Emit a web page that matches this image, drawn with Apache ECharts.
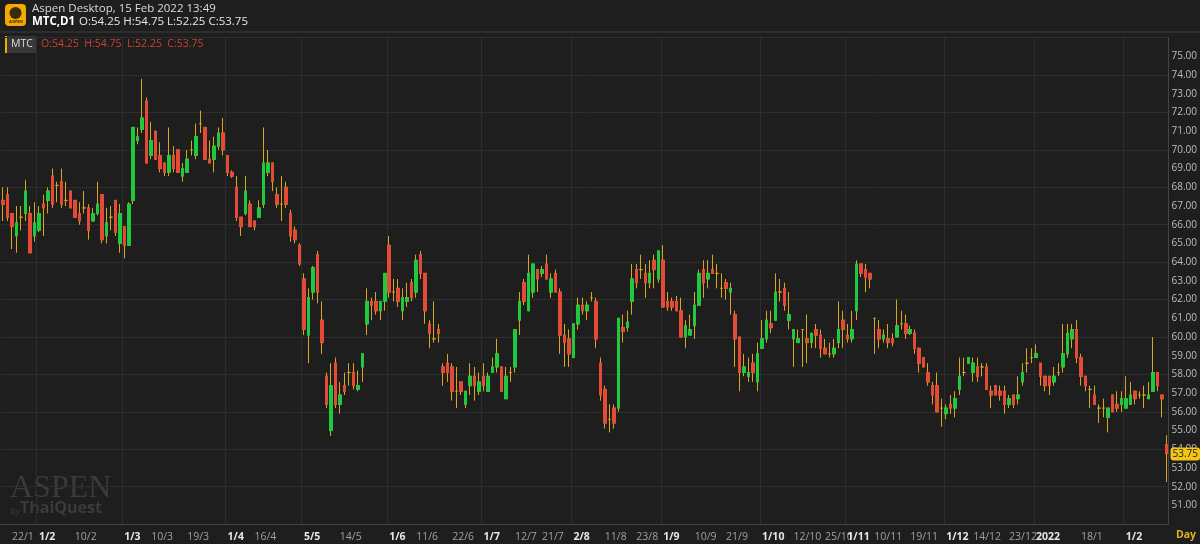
<!DOCTYPE html>
<html><head><meta charset="utf-8">
<script src="https://cdn.jsdelivr.net/npm/echarts@6/dist/echarts.min.js"></script>
<style>html,body{margin:0;padding:0;background:#1e1e1e}#c{width:1200px;height:544px}</style>
</head><body><div id="c"></div>
<script>
// [open, close, low, high] per trading day, 22 Jan 2021 .. 15 Feb 2022
const candles = [
[67.3,67.1,66.2,68.0],[67.6,66.4,66.2,68.0],[66.6,65.9,64.7,66.6],[65.4,66.1,64.5,67.0],[66.4,66.4,65.7,67.0],
[66.6,67.8,66.2,68.4],[66.6,64.5,64.5,67.0],[65.4,66.1,65.1,67.2],[65.7,66.6,65.6,67.0],[67.1,66.9,65.4,67.6],
[67.3,67.8,66.6,68.0],[68.6,67.1,66.9,69.0],[68.1,68.1,67.2,68.3],[68.3,67.1,66.9,69.0],[67.3,67.3,67.0,68.3],
[67.8,66.9,66.9,67.8],[67.3,66.4,66.4,67.3],[66.6,66.2,66.0,67.2],[66.9,66.9,66.6,67.8],[66.9,65.7,65.2,67.1],
[66.2,66.6,66.2,66.9],[66.6,67.1,66.5,68.3],[67.6,65.2,65.0,67.6],[65.4,66.1,65.0,66.9],[66.4,66.4,65.7,67.0],
[67.3,65.6,65.4,67.3],[65.0,66.6,64.5,67.1],[65.9,64.9,64.2,65.9],[64.9,67.1,64.9,67.2],[67.3,71.2,67.1,71.2],
[70.5,70.7,70.3,71.2],[71.1,71.7,70.9,73.8],[72.6,69.3,69.3,72.8],[69.7,70.5,69.5,71.5],[71.0,69.5,69.5,71.0],
[69.7,69.0,68.8,70.4],[69.3,68.8,68.6,69.3],[68.8,69.7,68.6,71.2],[69.7,69.0,68.8,70.2],[70.0,68.8,68.8,70.0],
[68.6,69.0,68.3,69.3],[68.8,69.5,68.8,70.0],[70.0,70.0,69.7,70.5],[69.7,70.7,69.5,71.4],[71.4,71.4,70.9,72.1],
[71.2,69.5,69.5,71.2],[69.5,69.3,69.3,70.5],[69.5,70.2,68.8,70.7],[70.2,70.9,70.0,71.2],[70.9,70.0,69.7,71.7],
[69.7,68.8,68.6,69.7],[68.8,68.6,68.5,68.9],[68.0,66.4,66.2,68.6],[66.4,65.9,65.4,66.4],[66.6,67.8,66.5,68.6],
[67.1,65.9,65.9,67.3],[66.2,65.9,65.7,66.2],[66.4,66.9,66.4,67.3],[67.1,69.3,66.9,71.2],[68.8,69.3,68.6,70.0],
[69.3,68.3,67.8,69.3],[67.6,67.1,66.9,68.0],[67.1,67.1,66.2,68.6],[68.0,67.1,66.9,68.3],[66.6,65.4,65.1,66.8],
[65.7,65.2,65.0,65.9],[64.9,63.9,63.8,65.0],[63.1,60.4,60.1,63.4],[60.1,62.1,58.6,62.6],[62.4,63.7,62.0,63.8],
[64.4,62.4,61.8,64.6],[60.9,59.7,59.1,61.9],[57.9,56.4,56.2,58.1],[55.0,57.4,54.7,58.6],[58.6,56.4,56.2,58.9],
[56.4,56.9,55.9,57.6],[57.4,57.1,56.9,58.1],[58.1,58.1,57.4,58.6],[58.1,57.4,57.2,58.6],[57.2,57.4,57.1,58.2],
[58.4,59.1,57.6,59.1],[60.7,61.9,60.1,62.6],[61.9,61.7,60.9,62.1],[61.9,61.4,61.2,62.4],[61.4,61.9,60.9,61.9],
[61.9,63.4,61.4,63.4],[64.9,62.4,62.1,65.4],[62.4,62.4,61.9,63.1],[62.6,61.9,61.6,63.1],[61.4,62.1,60.9,62.6],
[61.9,62.1,61.6,62.9],[62.9,62.1,61.9,63.1],[62.4,64.1,62.1,64.4],[64.4,63.4,63.1,64.6],[63.4,61.4,60.7,63.4],
[60.7,60.2,59.4,60.9],[59.9,59.9,59.7,61.9],[60.4,60.2,59.7,60.7],[58.4,58.1,57.4,58.6],[58.6,58.1,57.6,59.1],
[58.4,57.1,56.6,58.6],[57.1,57.1,56.2,58.4],[57.6,57.1,56.9,57.6],[56.4,57.1,56.2,57.1],[57.4,57.9,56.9,58.6],
[57.9,57.4,56.6,58.4],[57.1,57.6,56.9,58.1],[57.9,57.4,57.1,58.6],[57.1,57.9,57.1,58.1],[58.1,58.4,58.1,58.9],
[58.4,59.1,58.1,59.9],[58.4,57.1,57.1,58.4],[56.7,57.9,56.7,58.4],[58.1,58.1,57.6,58.4],[58.4,60.4,58.1,60.4],
[60.9,61.9,60.1,62.4],[62.9,61.9,61.7,63.1],[61.4,63.4,61.4,64.4],[62.4,63.9,62.1,63.9],[63.6,63.1,62.4,63.6],
[63.4,63.6,63.2,63.8],[63.9,63.1,63.1,64.4],[62.4,63.1,62.1,63.4],[63.4,62.4,62.4,63.6],[62.4,60.1,59.1,62.6],
[60.1,59.7,58.4,60.7],[59.9,59.1,58.4,60.4],[58.9,60.7,58.9,60.7],[60.7,61.7,60.4,62.1],[61.7,61.4,61.2,62.1],
[61.4,61.7,60.9,61.9],[62.1,62.1,61.9,62.4],[61.9,59.9,59.4,62.1],[58.6,56.9,56.6,58.9],[57.2,55.4,55.1,57.4],
[55.6,55.6,54.9,56.4],[56.2,55.4,55.1,56.4],[56.2,61.0,56.0,61.0],[60.5,60.3,59.7,61.2],[60.5,60.8,60.3,61.4],
[61.9,63.1,61.2,63.9],[63.6,62.9,62.6,63.9],[63.6,63.6,63.1,64.4],[63.4,62.9,62.1,63.9],[62.9,63.4,62.6,64.1],
[64.1,63.6,62.6,64.4],[63.1,64.6,62.9,64.6],[64.1,61.6,61.6,64.9],[61.9,61.6,61.4,62.4],[61.9,61.6,61.4,62.1],
[61.9,61.4,61.4,62.2],[61.4,60.0,60.0,62.1],[60.0,60.6,59.4,60.9],[60.1,60.4,60.1,61.2],[60.6,61.7,59.9,62.4],
[61.7,63.4,61.7,63.6],[63.6,62.9,62.1,64.1],[63.1,63.4,62.6,64.1],[63.6,63.4,63.4,64.4],[63.4,63.4,62.6,63.9],
[62.6,62.6,62.1,63.4],[62.9,62.6,62.0,63.1],[62.4,62.6,61.2,62.9],[61.2,59.9,58.4,61.4],[60.0,58.1,57.1,60.0],
[58.1,58.4,57.9,59.1],[57.9,58.1,57.6,58.9],[58.6,58.1,57.6,59.1],[57.6,59.1,57.1,59.7],[59.4,59.9,59.4,60.9],
[59.9,60.9,59.7,61.4],[60.7,60.5,60.2,61.4],[60.9,62.4,60.9,63.4],[62.4,62.4,61.9,63.1],[62.6,61.7,61.4,62.9],
[60.9,61.2,60.4,62.4],[59.9,60.4,58.4,60.4],[59.7,59.9,59.7,60.4],[60.4,60.4,58.4,60.4],[59.9,59.7,58.6,61.2],
[59.7,60.2,59.4,60.2],[60.4,60.1,59.4,60.7],[60.1,59.4,58.9,60.4],[59.4,59.1,59.1,59.9],[59.1,59.1,58.9,59.7],
[59.1,59.4,58.9,59.9],[59.7,60.4,59.4,61.9],[60.9,60.4,59.4,61.4],[60.1,59.9,59.7,60.7],[59.9,60.4,59.7,61.4],
[61.4,63.9,60.9,64.1],[63.9,63.4,63.2,63.9],[63.6,63.2,62.4,63.9],[63.4,63.1,62.6,63.4],[61.0,61.0,59.1,61.0],
[60.4,59.9,59.4,60.9],[59.9,60.1,59.7,60.4],[59.9,59.7,59.4,60.7],[59.9,59.7,59.5,60.2],[60.0,60.6,60.0,62.0],
[60.7,60.7,60.4,61.4],[60.7,60.2,59.9,61.2],[60.2,60.4,60.1,60.6],[60.2,59.4,59.1,60.4],[59.4,58.6,58.1,59.4],
[58.9,58.4,58.4,58.9],[58.1,57.6,57.4,58.6],[57.4,56.9,56.4,57.6],[57.4,56.0,56.0,58.1],[56.2,56.2,55.2,56.7],
[55.9,56.2,55.6,56.4],[56.4,56.2,55.9,56.9],[56.2,56.7,55.7,57.1],[57.2,57.9,56.9,58.9],[58.1,58.1,57.9,58.9],
[58.6,58.9,58.6,58.9],[58.1,58.6,57.6,58.9],[58.4,57.9,57.6,58.9],[58.4,58.4,57.9,58.6],[58.4,57.2,57.2,58.6],
[57.1,56.9,56.2,57.4],[57.4,56.9,56.9,57.4],[57.1,56.9,56.6,57.4],[57.1,56.4,55.9,57.4],[56.4,56.7,56.2,56.9],
[56.9,56.4,56.2,56.9],[56.7,56.9,56.4,57.9],[57.6,58.1,57.4,58.6],[58.6,58.6,58.1,59.4],[58.9,58.9,58.6,59.4],
[58.9,59.1,58.9,59.6],[58.6,57.9,57.4,58.6],[57.9,57.4,57.1,57.9],[57.9,57.4,56.9,57.9],[57.6,57.9,57.4,58.4],
[58.1,58.1,57.9,58.6],[58.4,59.1,58.1,60.7],[59.1,60.2,58.9,60.7],[59.9,60.4,59.4,60.7],[60.4,58.9,58.6,60.9],
[58.9,57.9,57.4,59.1],[57.9,57.4,57.1,57.9],[57.2,57.2,56.2,57.4],[56.9,56.4,56.4,57.4],[56.2,56.2,55.4,56.4],
[56.2,56.2,55.7,56.7],[55.7,56.2,54.9,56.2],[56.9,56.0,56.0,56.9],[56.4,56.2,56.0,57.1],[56.4,56.7,56.0,57.1],
[56.2,56.7,56.2,57.9],[56.4,56.9,56.4,57.6],[57.1,56.7,56.4,57.1],[56.9,56.9,56.7,57.1],[56.9,56.9,56.2,57.4],
[56.7,56.9,56.7,57.6],[57.1,58.1,57.1,60.0],[58.1,57.4,57.1,58.1],[56.9,56.7,55.7,56.9],[54.25,53.75,52.25,54.75]
];
const slotCount = 260;
const tickIndex = [2,8,16,27,33,41,50,56,67,75,86,92,100,107,114,120,127,134,141,147,154,161,169,176,183,188,194,202,210,216,224,230,240,250];
const tickText  = ['22/1','1/2','10/2','1/3','10/3','19/3','1/4','16/4','5/5','14/5','1/6','11/6','22/6','1/7','12/7','21/7','2/8','11/8','23/8','1/9','10/9','21/9','1/10','12/10','25/10','1/11','10/11','19/11','1/12','14/12','23/12','2022','18/1','1/2'];
const tickBold  = ['1/2','1/3','1/4','5/5','1/6','1/7','2/8','1/9','1/10','1/11','1/12','2022'];
const lastPrice = 53.75;

const categories = Array.from({length: slotCount}, (_, i) => String(i));
const tickMap = {}; tickIndex.forEach((k, j) => tickMap[k] = tickText[j]);
const boldSet = new Set(tickIndex.filter((k, j) => tickBold.includes(tickText[j])));
const bodies = candles.map(d => d[0] === d[1] ? '-' : [d[0], d[1], Math.min(d[0], d[1]), Math.max(d[0], d[1])]);

const chart = echarts.init(document.getElementById('c'));
chart.setOption({
  backgroundColor: '#1e1e1e',
  animation: false,
  grid: {left: 0, right: 28, top: 37.6, bottom: 19.9},
  xAxis: {
    type: 'category', data: categories, boundaryGap: true,
    axisLine: {show: true, lineStyle: {color: '#444'}},
    axisTick: {show: false},
    axisLabel: {
      interval: 0, align: 'left', margin: 7,
      formatter: (v, i) => tickMap[i] ? (boldSet.has(i) ? '{b|' + tickMap[i] + '}' : '{n|' + tickMap[i] + '}') : '',
      rich: {b: {color: '#e6e6e6', fontWeight: 'bold', fontSize: 10.5, fontFamily: 'Open Sans'},
             n: {color: '#a0a0a0', fontSize: 10.5, fontFamily: 'Open Sans'}}
    },
    splitLine: {show: true, interval: (i) => boldSet.has(i), lineStyle: {color: '#2d2d2d'}}
  },
  yAxis: [{
    type: 'value', position: 'right', min: 50, max: 76, interval: 1,
    axisLine: {show: true, lineStyle: {color: '#444'}}, axisTick: {show: false},
    axisLabel: {color: '#bdbdbd', fontSize: 10, fontFamily: 'Open Sans', margin: 3,
      formatter: v => (v < 51 || v > 75) ? '' : v.toFixed(2)},
    splitLine: {show: false},
    axisPointer: {
      show: true, status: 'show', value: lastPrice, triggerTooltip: false,
      lineStyle: {opacity: 0},
      label: {show: true, formatter: p => Number(p.value).toFixed(2), backgroundColor: '#f3c515',
              color: '#222', fontSize: 10, padding: [2, 2, 1, 2], margin: 2, fontFamily: 'Open Sans'}
    }
  }, {
    type: 'value', position: 'right', min: 50, max: 76, interval: 2,
    axisLine: {show: false}, axisTick: {show: false}, axisLabel: {show: false},
    splitLine: {show: true, lineStyle: {color: '#2d2d2d'}}
  }],
  series: [{
    type: 'candlestick', data: candles, barWidth: 3,
    itemStyle: {color: '#d9a521', color0: '#d9a521', borderColor: '#d9a521', borderColor0: '#d9a521', borderWidth: 1}
  }, {
    type: 'candlestick', data: bodies, barWidth: 3,
    itemStyle: {color: '#1ec93f', color0: '#e44b36', borderColor: '#1ec93f', borderColor0: '#e44b36', borderWidth: 1}
  }],
  graphic: [
    {type: 'line', shape: {x1: 0, y1: 32, x2: 1200, y2: 32}, style: {stroke: '#3c3c3c', lineWidth: 1}},
    {type: 'rect', shape: {x: 5, y: 4, width: 21, height: 22, r: 4}, style: {fill: '#f2a900'}},
    {type: 'circle', shape: {cx: 15.5, cy: 13, r: 6}, style: {fill: '#3a2a10'}},
    {type: 'text', style: {x: 9, y: 20, text: 'ASPEN', fill: '#3a2a10', fontSize: 4, fontWeight: 'bold'}},
    {type: 'text', style: {x: 32, y: 3, text: 'Aspen Desktop, 15 Feb 2022 13:49', fill: '#dcdcdc', fontSize: 11.5, fontFamily: 'Open Sans'}},
    {type: 'text', style: {x: 32, y: 16, text: 'MTC,D1', fill: '#ffffff', fontSize: 11.5, fontWeight: 'bold', fontFamily: 'Open Sans'}},
    {type: 'text', style: {x: 79, y: 16, text: 'O:54.25 H:54.75 L:52.25 C:53.75', fill: '#e6e6e6', fontSize: 11.5, fontFamily: 'Open Sans'}},
    {type: 'rect', shape: {x: 5, y: 36, width: 31, height: 17}, style: {fill: '#383838'}},
    {type: 'rect', shape: {x: 5, y: 36, width: 2, height: 17}, style: {fill: '#f2a900'}},
    {type: 'text', style: {x: 11, y: 39, text: 'MTC', fill: '#dddddd', fontSize: 10.5, fontFamily: 'Open Sans'}},
    {type: 'text', style: {x: 41, y: 39, text: 'O:54.25  H:54.75  L:52.25  C:53.75', fill: '#c9432f', fontSize: 10.5, fontFamily: 'Open Sans'}},
    {type: 'text', style: {x: 10, y: 473, text: 'ASPEN', fill: '#3b3b3b', fontSize: 32, fontFamily: 'Liberation Serif'}},
    {type: 'text', style: {x: 10, y: 507, text: 'by', fill: '#3b3b3b', fontSize: 9, fontFamily: 'Open Sans'}},
    {type: 'text', style: {x: 20, y: 500, text: 'ThaiQuest', fill: '#3b3b3b', fontSize: 16, fontWeight: 'bold', fontFamily: 'Open Sans'}},
    {type: 'text', style: {x: 1176, y: 530, text: 'Day', fill: '#e0b320', fontSize: 10.5, fontWeight: 'bold', fontFamily: 'Open Sans'}}
  ]
});
</script></body></html>
